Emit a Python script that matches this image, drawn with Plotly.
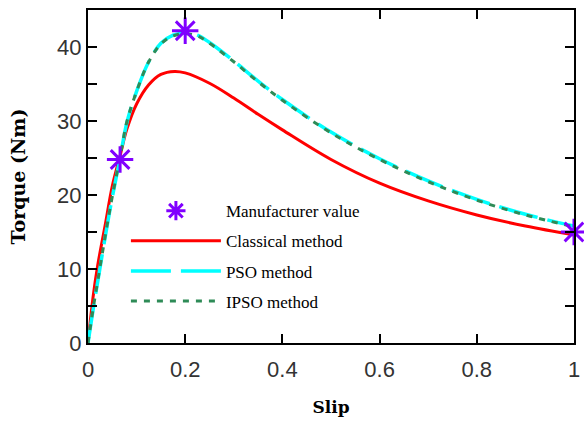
import plotly.graph_objects as go

# Data
manuf_slip = [0.066, 0.2, 1.0]
manuf_torque = [24.8, 42.2, 15.0]

classical_slip = [0, 0.01, 0.02, 0.035, 0.05, 0.066, 0.08, 0.1, 0.125, 0.15, 0.178, 0.2, 0.25, 0.3, 0.35, 0.4, 0.5, 0.6, 0.7, 0.8, 0.9, 1.0]
classical_torque = [0, 6.0, 10.5, 15.8, 21.2, 25.3, 28.9, 32.3, 34.9, 36.3, 36.7, 36.5, 35.1, 33.1, 30.9, 28.8, 24.8, 21.6, 19.2, 17.3, 15.8, 14.6]

pso_slip = [0, 0.01, 0.021, 0.039, 0.05, 0.066, 0.08, 0.1, 0.125, 0.15, 0.175, 0.198, 0.225, 0.25, 0.3, 0.35, 0.4, 0.5, 0.6, 0.7, 0.8, 0.9, 1.0]
pso_torque = [0, 4.3, 8.7, 15.7, 19.7, 25.0, 29.8, 34.0, 38.0, 40.5, 41.6, 41.9, 41.6, 40.6, 38.1, 35.4, 32.9, 28.5, 24.9, 21.9, 19.4, 17.4, 15.8]

ipso_slip = [0, 0.01, 0.021, 0.039, 0.05, 0.066, 0.08, 0.1, 0.125, 0.15, 0.175, 0.198, 0.225, 0.25, 0.3, 0.35, 0.4, 0.5, 0.6, 0.7, 0.8, 0.9, 1.0]
ipso_torque = [0, 4.4, 8.8, 15.8, 19.8, 25.1, 29.9, 34.0, 38.0, 40.4, 41.5, 41.8, 41.5, 40.5, 38.0, 35.3, 32.8, 28.4, 24.8, 21.8, 19.3, 17.3, 15.7]

x_tickvals = [0, 0.2, 0.4, 0.6, 0.8, 1.0]
x_ticktext = ["0", "0.2", "0.4", "0.6", "0.8", "1"]
y_tickvals = [0, 5, 10, 15, 20, 25, 30, 35, 40, 45]
y_ticktext = ["0", "", "10", "", "20", "", "30", "", "40", ""]

fig = go.Figure()
fig.add_trace(go.Scatter(x=classical_slip, y=classical_torque, mode="lines", name="Classical method",
                         line=dict(color="#ff0000", width=3, shape="spline"), legendgroup="b", legendrank=2))
fig.add_trace(go.Scatter(x=pso_slip, y=pso_torque, mode="lines", name="PSO method",
                         line=dict(color="#00ffff", width=3.5, dash="40px,10px", shape="spline"), legendgroup="c", legendrank=3))
fig.add_trace(go.Scatter(x=ipso_slip, y=ipso_torque, mode="lines", name="IPSO method",
                         line=dict(color="#2e8b57", width=3, dash="6px,7px", shape="spline"), legendgroup="d", legendrank=4))
fig.add_trace(go.Scatter(x=manuf_slip, y=manuf_torque, mode="markers", name="Manufacturer value",
                         marker=dict(symbol="asterisk-open", size=22, color="#8000ff",
                                     line=dict(color="#8000ff", width=3)),
                         legendgroup="a", legendrank=1, cliponaxis=False))

fig.update_layout(
    width=584, height=425,
    margin=dict(l=88, r=10, t=10, b=82),
    paper_bgcolor="white", plot_bgcolor="white",
    showlegend=True,
    legend=dict(x=0.078, y=0.45, xanchor="left", yanchor="top",
                bgcolor="rgba(0,0,0,0)", borderwidth=0,
                font=dict(family="Liberation Serif", size=17, color="black"),
                tracegroupgap=5, itemwidth=90),
    xaxis=dict(range=[0, 1], tickvals=x_tickvals, ticktext=x_ticktext, automargin=False,
               showgrid=False, zeroline=False, showline=True, linecolor="black", linewidth=2,
               mirror="ticks", ticks="inside", ticklen=9, tickwidth=2, tickcolor="black",
               tickfont=dict(family="Liberation Sans", size=22, color="#333"),
               ticklabelstandoff=6,
               title=dict(text="<b>Slip</b>", font=dict(family="DejaVu Serif", size=17, color="black"), standoff=20)),
    yaxis=dict(range=[0, 45], tickvals=y_tickvals, ticktext=y_ticktext, automargin=False,
               showgrid=False, zeroline=False, showline=True, linecolor="black", linewidth=2,
               mirror="ticks", ticks="inside", ticklen=9, tickwidth=2, tickcolor="black",
               tickfont=dict(family="Liberation Sans", size=22, color="#333"),
               title=dict(text="<b>Torque (Nm)</b>", font=dict(family="DejaVu Serif", size=19, color="black"), standoff=26)),
)

fig.write_html("out.html")
